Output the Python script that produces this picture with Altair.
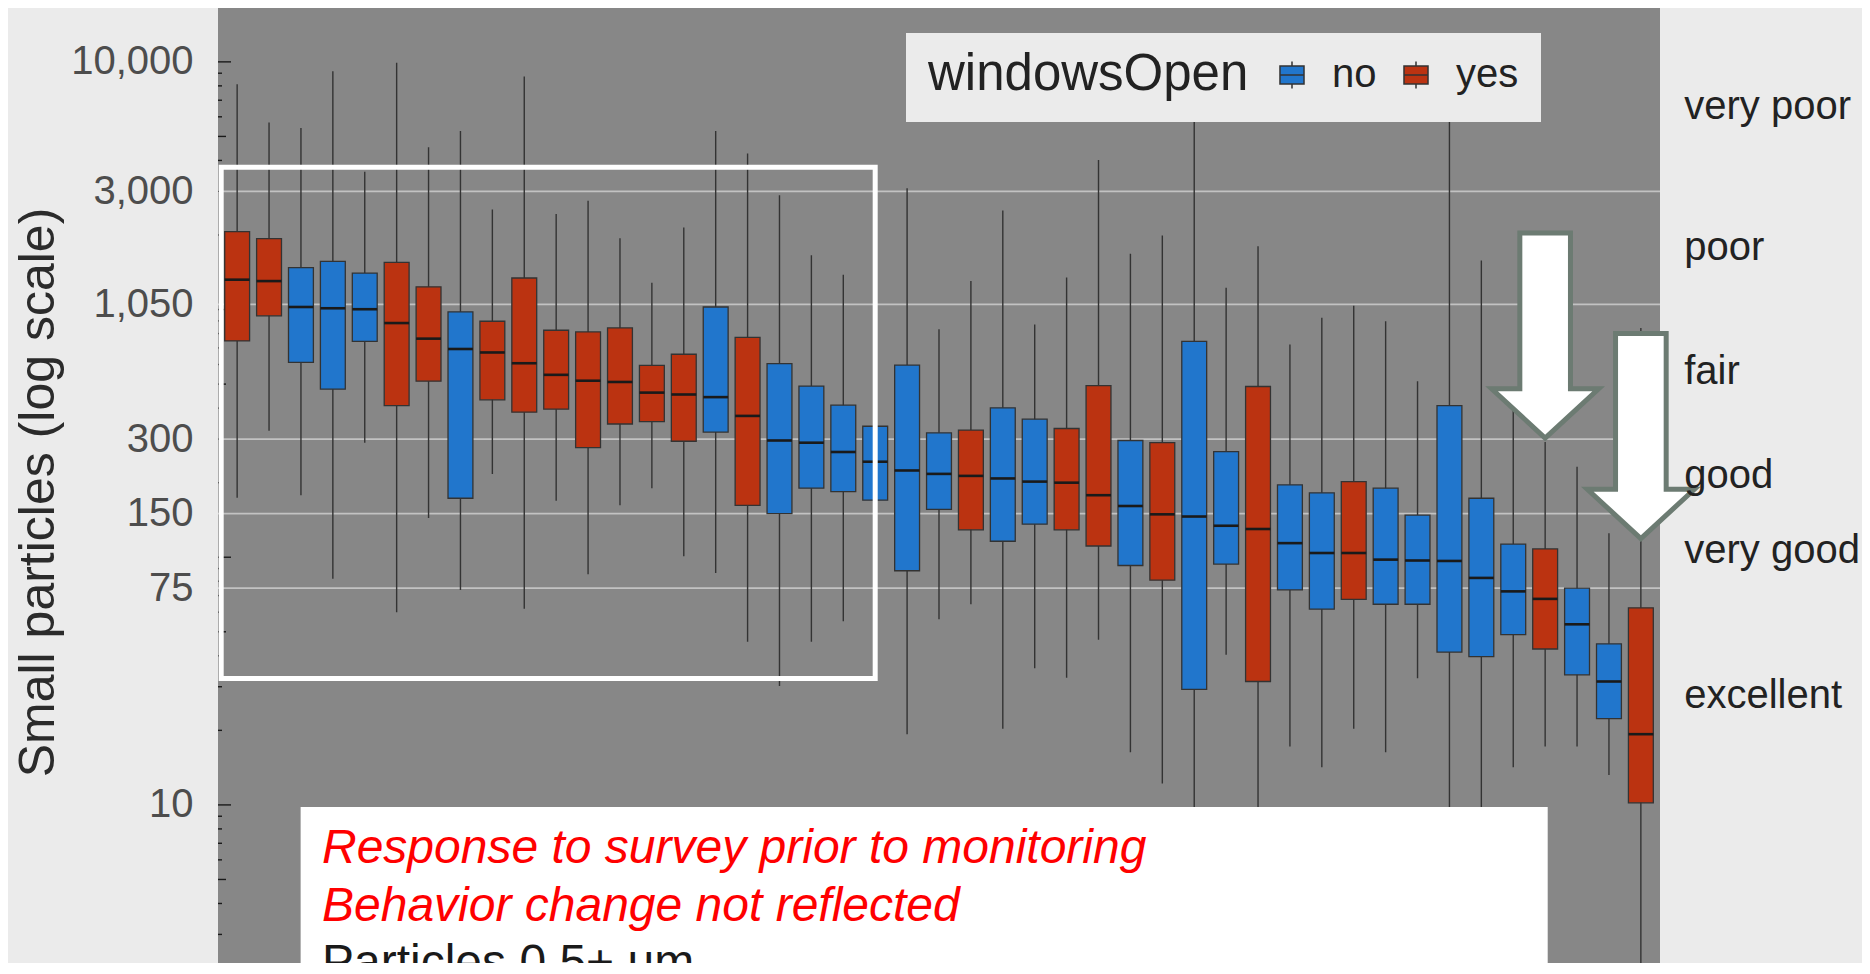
import altair as alt
import pandas as pd

# ---------------- data ----------------
box_index = list(range(1, 46))
windows_open = ["yes", "yes", "no", "no", "no", "yes", "yes", "no", "yes", "yes",
                "yes", "yes", "yes", "yes", "yes", "no", "yes", "no", "no", "no",
                "no", "no", "no", "yes", "no", "no", "yes", "yes", "no", "yes",
                "no", "no", "yes", "no", "no", "yes", "no", "no", "no", "no",
                "no", "yes", "no", "no", "yes"]
whisker_high = [8128, 5689, 5410, 9165, 3602, 9917, 4526, 5255, 2532, 8722,
                2429, 2750, 1941, 1282, 2145, 5255, 4271, 2891, 1658, 1381,
                1150, 3090, 832, 1303, 2511, 871, 1347, 4013, 1678, 1990,
                5800, 1225, 1802, 723, 927, 1037, 897, 514, 5800, 1577,
                394, 292, 232, 125, 843]
q3 = [2065, 1933, 1476, 1564, 1404, 1551, 1235, 979, 897, 1341,
      825, 812, 843, 595, 660, 1024, 772, 605, 491, 411,
      338, 597, 318, 326, 401, 361, 331, 493, 296, 290,
      744, 267, 489, 196, 182, 202, 190, 148, 409, 173,
      113, 108, 75, 44.7, 62.5]
median = [1320, 1303, 1024, 1012, 1003, 882, 763, 693, 671, 607,
          545, 516, 510, 462, 454, 443, 372, 296, 290, 266,
          243, 224, 217, 213, 208, 202, 200, 178, 161, 149,
          146, 134, 130, 114, 104, 104, 97.8, 97, 96.6, 82.5,
          72.8, 67.9, 53.6, 31.5, 19.3]
q1 = [747, 943, 612, 477, 744, 409, 514, 173, 432, 385,
      396, 277, 345, 353, 294, 320, 162, 150, 190, 184,
      170, 88.2, 156, 129, 116, 136, 129, 111, 92.6, 80.8,
      29.3, 93.8, 31.5, 73.8, 61.7, 67.6, 64.6, 64.6, 41.4, 39.7,
      48.7, 42.6, 33.5, 22.3, 10.2]
whisker_low = [174, 324, 178, 81.8, 290, 59.9, 144, 73.8, 217, 61.9,
               169, 85.3, 162, 190, 101, 86.4, 45.6, 30.2, 45.6, 55.1,
               70, 19.3, 56.2, 64.6, 20.3, 35.6, 32.6, 46.4, 16.3, 12.2,
               2.3, 40.4, 2.3, 17.2, 14.2, 20.3, 16.3, 32.5, 2.3, 2.3,
               14.2, 17.2, 17.2, 13.2, 2.3]

tick_values = [10, 75, 150, 300, 1050, 3000, 10000]
threshold_lines = [75, 150, 300, 1050, 3000]

quality_labels = ["very poor", "poor", "fair", "good", "very good", "excellent"]
quality_values = [6600, 1775, 561, 212, 106, 27.4]

arrow_x = [42, 45]
arrow_y = [303, 119]

highlight_rect = {"x": [0.5], "x2": [21.0], "y": [3750], "y2": [32.4]}
note_rect = {"x": [2.99], "x2": [42.08], "y": [9.8], "y2": [2.3]}
note_red = ["Response to survey prior to monitoring", "Behavior change not reflected"]
note_red_y = [5.84, 3.40]
note_black = ["Particles 0.5+ um"]
note_black_y = [2.0]
note_x = 3.66

# ---------------- styling ----------------
BLUE = "#2176CC"
RED = "#BB3311"
PANEL = "#878787"
PAGE = "#EBEBEB"
FONT = "Liberation Sans"
HALF = 0.39

box_df = pd.DataFrame({
    "idx": box_index, "windowsOpen": windows_open, "lo": whisker_low,
    "q1": q1, "med": median, "q3": q3, "hi": whisker_high,
})
box_df["xl"] = box_df["idx"] - HALF
box_df["xr"] = box_df["idx"] + HALF

# log ticks inside the panel (annotation_logticks style)
lt_v, lt_len = [], []
for k in [0, 1, 2, 3, 4]:
    for m in range(1, 10):
        v = m * 10 ** k
        if 2.3 <= v <= 16500:
            lt_v.append(v)
            lt_len.append(13 if m == 1 else (8 if m == 5 else 4))
logtick_df = pd.DataFrame({"v": lt_v})
logtick_df["x0"] = 0.4
logtick_df["x1"] = 0.4 + pd.Series(lt_len) / 31.9

xscale = alt.Scale(domain=[0.4, 45.6], nice=False, zero=False)
yscale = alt.Scale(type="log", domain=[2.3, 16500], nice=False)
y_axis = alt.Axis(values=tick_values, format=",d", grid=False, ticks=False, domain=False,
                  labelFontSize=40, labelFont=FONT, labelColor="#4D4D4D", labelPadding=25,
                  labelFlush=False, labelOverlap=False,
                  title="Small particles (log scale)", titleFont=FONT, titleFontSize=50,
                  titleFontWeight="normal", titleColor="#2B2B2B", titleAngle=270,
                  titleX=-180, titleY=484, titleAlign="center", titleBaseline="middle")


def X(f):
    return alt.X(f, type="quantitative", scale=xscale, axis=None)


def Y(f):
    return alt.Y(f, type="quantitative", scale=yscale, axis=y_axis)


grid = alt.Chart(pd.DataFrame({"v": threshold_lines})).mark_rule(
    color="#C2C2C2", strokeWidth=1.8).encode(y=Y("v"))

logticks = alt.Chart(logtick_df).mark_rule(color="#1A1A1A", strokeWidth=1.4).encode(
    x=X("x0"), x2="x1", y=Y("v"))

whiskers = alt.Chart(box_df).mark_rule(color="#333333", strokeWidth=1.4).encode(
    x=X("idx"), y=Y("lo"), y2="hi")

glyph = "M-0.89,-0.67H0.89V0.67H-0.89Z M0,-1V-0.67 M0,0.67V1 M-0.89,0H0.89"
boxes = alt.Chart(box_df).mark_rect(stroke="#333333", strokeWidth=1.3, opacity=1).encode(
    x=X("xl"), x2="xr", y=Y("q1"), y2="q3",
    color=alt.Color("windowsOpen:N",
                    scale=alt.Scale(domain=["no", "yes"], range=[BLUE, RED]),
                    legend=alt.Legend(orient="none", legendX=688, legendY=25,
                                      direction="horizontal", titleOrient="left",
                                      fillColor=PAGE, padding=22,
                                      symbolType=glyph, symbolSize=729,
                                      symbolStrokeColor="#333333", symbolStrokeWidth=1.5,
                                      labelFontSize=40, labelFont=FONT, labelColor="#222222",
                                      titleFontSize=51, titleFont=FONT, titleColor="#222222",
                                      titleFontWeight="normal", titleLimit=1000,
                                      labelLimit=500, labelOffset=20,
                                      columnPadding=19, titlePadding=23)))

medians = alt.Chart(box_df).mark_rule(color="#1A1A1A", strokeWidth=2.6).encode(
    x=X("xl"), x2="xr", y=Y("med"))

highlight = alt.Chart(pd.DataFrame(highlight_rect)).mark_rect(
    fill="white", fillOpacity=0, stroke="white", strokeWidth=5).encode(
    x=X("x"), x2="x2", y=Y("y"), y2="y2")

arrow_path = "M-0.247,-2L0.247,-2L0.247,-0.48L0.522,-0.48L0,0L-0.522,-0.48L-0.247,-0.48Z"
arrows = alt.Chart(pd.DataFrame({"x": arrow_x, "y": arrow_y})).mark_point(
    shape=arrow_path, size=42025, filled=True, fill="white", fillOpacity=1, opacity=1,
    stroke="#6C7B72", strokeWidth=5, strokeOpacity=1, strokeJoin="miter").encode(
    x=X("x"), y=Y("y"))

note_box = alt.Chart(pd.DataFrame(note_rect)).mark_rect(fill="white", opacity=1).encode(
    x=X("x"), x2="x2", y=Y("y"), y2="y2")

note_red_layer = alt.Chart(pd.DataFrame({"t": note_red, "y": note_red_y, "x": note_x})).mark_text(
    align="left", baseline="alphabetic", fontSize=48, font=FONT, fontStyle="italic",
    color="#FF0000").encode(x=X("x"), y=Y("y"), text="t:N")

note_black_layer = alt.Chart(pd.DataFrame({"t": note_black, "y": note_black_y, "x": note_x})).mark_text(
    align="left", baseline="alphabetic", fontSize=48, font=FONT, color="#1A1A1A").encode(
    x=X("x"), y=Y("y"), text="t:N")

right_labels = alt.Chart(pd.DataFrame({"t": quality_labels, "y": quality_values, "x": 46.36})).mark_text(
    align="left", baseline="middle", fontSize=40, font=FONT, color="#222222").encode(
    x=X("x"), y=Y("y"), text="t:N")

chart = alt.layer(grid, logticks, whiskers, boxes, medians, highlight, arrows,
                  note_box, note_red_layer, note_black_layer, right_labels).properties(
    width=1442, height=955,
    padding={"left": 210, "top": 0, "right": 202, "bottom": 0},
    autosize=alt.AutoSizeParams(type="none"),
    background=PAGE,
).configure_view(fill=PANEL, stroke=PANEL, strokeWidth=0)

chart.save("out.html", embed_options={"renderer": "svg", "actions": False})
